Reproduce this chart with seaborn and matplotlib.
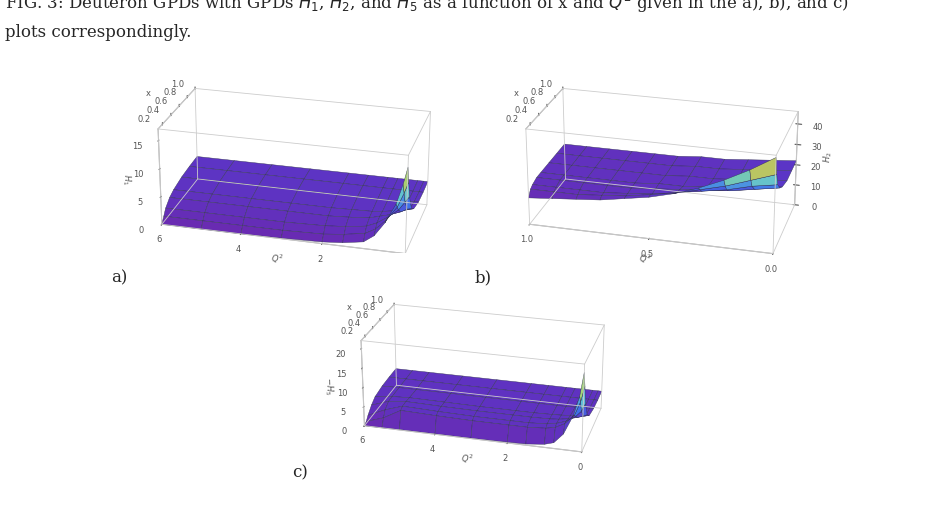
import numpy as np
import matplotlib
matplotlib.use("Agg")
import matplotlib.pyplot as plt
import seaborn as sns
from matplotlib.colors import LinearSegmentedColormap

sns.set_style("white")
plt.rcParams['font.family'] = ['DejaVu Sans']

# grids (coarse estimates)
q2_a = [0.0, 0.1, 0.25, 0.5, 0.75, 1.0, 1.5, 2.0, 3.0, 4.0, 5.0, 6.0]
x_a = [0.1, 0.15, 0.2, 0.3, 0.4, 0.6, 0.8, 1.0]
h1 = [
    [15.0, 12.0, 8.5, 5.0, 2.5, 1.2, 0.6, 0.3, 0.1, 0.0, 0.0, 0.0],
    [12.0, 10.0, 7.5, 5.0, 3.2, 2.2, 1.6, 1.2, 1.0, 1.0, 1.0, 1.0],
    [9.0, 8.0, 6.5, 5.0, 3.8, 3.0, 2.5, 2.2, 2.0, 2.0, 2.0, 2.0],
    [6.0, 5.8, 5.2, 4.5, 4.0, 3.5, 3.2, 3.0, 3.0, 3.0, 3.0, 3.0],
    [5.0, 4.8, 4.5, 4.2, 3.9, 3.7, 3.6, 3.5, 3.5, 3.5, 3.5, 3.5],
    [4.3, 4.3, 4.2, 4.1, 4.0, 4.0, 4.0, 4.0, 4.0, 4.0, 4.0, 4.0],
    [4.2, 4.2, 4.2, 4.2, 4.2, 4.2, 4.2, 4.2, 4.2, 4.2, 4.2, 4.2],
    [4.3, 4.3, 4.3, 4.3, 4.3, 4.3, 4.3, 4.3, 4.3, 4.3, 4.3, 4.3],
]

q2_b = [0.0, 0.1, 0.2, 0.3, 0.4, 0.5, 0.6, 0.7, 0.8, 0.9, 1.0]
x_b = [0.1, 0.15, 0.2, 0.3, 0.4, 0.6, 0.8, 1.0]
h2 = [
    [45, 38, 32, 27, 23, 20, 18, 16, 15, 14, 13],
    [36, 32, 28, 25, 22, 20, 18, 17, 16, 16, 16],
    [30, 28, 25, 23, 21, 19, 18, 17, 17, 17, 17],
    [26, 24, 22, 21, 20, 19, 18, 18, 18, 18, 18],
    [24, 22, 21, 20, 19, 19, 18, 18, 18, 18, 18],
    [22, 21, 20, 19, 19, 18, 18, 18, 18, 18, 18],
    [22, 21, 20, 19, 19, 18, 18, 18, 18, 18, 18],
    [22, 21, 20, 19, 19, 18, 18, 18, 18, 18, 18],
]

q2_c = [0.0, 0.1, 0.25, 0.5, 0.75, 1.0, 1.5, 2.0, 3.0, 4.0, 5.0, 5.5, 6.0]
x_c = [0.1, 0.15, 0.2, 0.3, 0.4, 0.6, 0.8, 1.0]
h5 = [
    [20.0, 14.0, 9.0, 4.0, 1.5, 0.8, 0.3, 0.2, 0.1, 0.1, 0.1, 0.0, 0.0],
    [16.0, 12.0, 8.5, 6.0, 4.8, 4.3, 4.0, 4.0, 4.0, 4.2, 4.5, 2.0, 0.5],
    [11.0, 9.0, 7.5, 6.0, 5.2, 4.8, 4.5, 4.5, 4.5, 4.7, 5.0, 3.5, 1.5],
    [7.0, 6.5, 6.0, 5.4, 5.0, 4.8, 4.7, 4.7, 4.7, 4.8, 5.0, 4.5, 3.0],
    [5.5, 5.3, 5.1, 5.0, 4.8, 4.7, 4.6, 4.6, 4.6, 4.7, 4.8, 4.6, 4.0],
    [4.8, 4.8, 4.7, 4.7, 4.6, 4.6, 4.6, 4.6, 4.6, 4.6, 4.6, 4.6, 4.5],
    [4.6, 4.6, 4.6, 4.6, 4.6, 4.6, 4.6, 4.6, 4.6, 4.6, 4.6, 4.6, 4.6],
    [4.6, 4.6, 4.6, 4.6, 4.6, 4.6, 4.6, 4.6, 4.6, 4.6, 4.6, 4.6, 4.6],
]

cmap = LinearSegmentedColormap.from_list(
    "mma", [(0.0, "#6a2ab0"), (0.3, "#5a36c8"), (0.42, "#3f6ee8"), (0.55, "#5cc0d8"),
            (0.7, "#9fd67a"), (0.85, "#e6a83a"), (1.0, "#b8321c")])


def surface(ax, q2, x, z, zticks, zlabel, xticks, elev, azim, zlim, xlim, zside, vmin):
    Q, X = np.meshgrid(q2, x)
    Z = np.array(z, dtype=float)
    ax.plot_surface(Q, X, Z, cmap=cmap, edgecolor="#333355", linewidth=0.3,
                    vmin=vmin, vmax=zlim[1], antialiased=True, shade=True)
    # thin bounding box like Mathematica's
    for a in xlim:
        for b in (0.1, 1.0):
            ax.plot([a, a], [b, b], zlim, color="#cccccc", lw=0.6)
        for c in zlim:
            ax.plot([a, a], [0.1, 1.0], [c, c], color="#cccccc", lw=0.6)
    for b in (0.1, 1.0):
        for c in zlim:
            ax.plot(list(xlim), [b, b], [c, c], color="#cccccc", lw=0.6)
    ax.set_xlim(*xlim)
    ax.set_ylim(0.1, 1.0)
    ax.set_zlim(*zlim)
    ax.set_box_aspect((2.4, 1.1, 1.0))
    ax.set_xticks(xticks)
    ax.set_yticks([0.2, 0.4, 0.6, 0.8, 1.0])
    ax.set_zticks(zticks)
    ax.tick_params(labelsize=6, colors="#555555", pad=0)
    ax.set_xlabel("$Q^2$", fontsize=6, color="#555555", labelpad=-6)
    ax.set_ylabel("x", fontsize=6, color="#555555", labelpad=-8)
    ax.set_zlabel(zlabel, fontsize=6, color="#555555", labelpad=-8)
    for axis in (ax.xaxis, ax.yaxis, ax.zaxis):
        axis.set_pane_color((1, 1, 1, 0))
        axis._axinfo["grid"]["linewidth"] = 0
        axis.line.set_color("#aaaaaa")
    ax.grid(False)
    ax.view_init(elev=elev, azim=azim)
    ax.zaxis.set_ticks_position(zside)
    ax.zaxis.set_label_position(zside)
    ax.yaxis.set_ticks_position("upper")
    ax.yaxis.set_label_position("upper")


fig = plt.figure(figsize=(9.43, 5.05), dpi=100)

ax_a = fig.add_axes([0.10, 0.38, 0.42, 0.56], projection="3d")
surface(ax_a, q2_a, x_a, h1, [0, 5, 10, 15], "$H_1$", [0, 2, 4, 6], 24, -75, (0, 17), (6, 0), "lower", 0)

ax_b = fig.add_axes([0.52, 0.38, 0.36, 0.56], projection="3d")
surface(ax_b, q2_b, x_b, h2, [0, 10, 20, 30, 40], "$H_2$", [0.0, 0.5, 1.0], 24, -75, (0, 46), (1, 0), "upper", 12)

ax_c = fig.add_axes([0.31, 0.0, 0.40, 0.50], projection="3d")
surface(ax_c, q2_c, x_c, h5, [0, 5, 10, 15, 20], "$-H_5$", [0, 2, 4, 6], 24, -75, (0, 22), (6, 0), "lower", 0)

fig.text(0.005, 0.995, "FIG. 3: Deuteron GPDs with GPDs $H_1$, $H_2$, and $H_5$ as a function of x and $Q^2$ given in the a), b), and c)",
         fontsize=12, family="DejaVu Serif", va="center", ha="left")
fig.text(0.005, 0.935, "plots correspondingly.", fontsize=12, family="DejaVu Serif", va="center")
fig.text(0.118, 0.44, "a)", fontsize=12, family="DejaVu Serif")
fig.text(0.503, 0.44, "b)", fontsize=12, family="DejaVu Serif")
fig.text(0.31, 0.055, "c)", fontsize=12, family="DejaVu Serif")

fig.savefig("out.png", dpi=100)
